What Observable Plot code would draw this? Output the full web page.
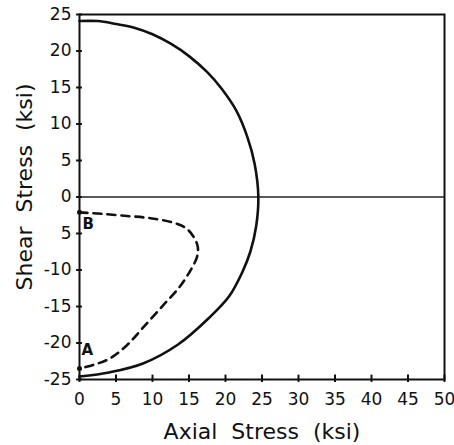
<!DOCTYPE html>
<html>
<head>
<meta charset="utf-8">
<script src="https://cdn.jsdelivr.net/npm/d3@7"></script>
<script src="https://cdn.jsdelivr.net/npm/@observablehq/plot@0.6"></script>
<style>
  body { margin: 0; background: #fff; }
  #chart svg { display: block; }
</style>
</head>
<body>
<div id="chart"></div>
<script>
// Solid curve (outer envelope)
const solidX = [0, 2.5, 5, 7.5, 10, 12.5, 15, 17.5, 19.5, 21.5, 23, 24, 24.5, 24.2, 23.4, 22.3, 20.5, 17.8, 13.5, 8.7, 4.2, 0];
const solidY = [24.1, 24.1, 23.7, 23.2, 22.3, 21.0, 19.3, 17.1, 14.8, 11.8, 8.2, 4.5, 0, -4, -7.5, -10.3, -13.6, -16.5, -20.2, -22.8, -24.0, -24.6];
// Dashed path from B to A
const dashX = [0, 3, 6.5, 9.7, 12.8, 14.5, 15.6, 16.2, 16.1, 15.4, 13.8, 11.4, 8.7, 6.5, 4.2, 1.9, 0];
const dashY = [-2.1, -2.3, -2.6, -2.9, -3.5, -4.2, -5.4, -6.8, -8.2, -9.7, -12.2, -14.9, -17.9, -20.3, -22.1, -23, -23.5];
// Labelled points
const ptLabels = ["A", "B"];
const ptX = [0, 0];
const ptY = [-23.5, -2.1];
// Ticks
const xTicks = [0, 5, 10, 15, 20, 25, 30, 35, 40, 45, 50];
const yTicks = [25, 20, 15, 10, 5, 0, -5, -10, -15, -20, -25];
const yTickLabels = ["25", "20", "15", "10", "5", "0", "5", "-10", "-15", "-20", "-25"];

const solid = solidX.map((x, i) => ({x, y: solidY[i]}));
const dashed = dashX.map((x, i) => ({x, y: dashY[i]}));
const pts = ptLabels.map((l, i) => ({l, x: ptX[i], y: ptY[i]}));

const font = "'DejaVu Sans', sans-serif";

const chart = Plot.plot({
  width: 454,
  height: 445,
  marginLeft: 79,
  marginRight: 10,
  marginTop: 14,
  marginBottom: 66,
  style: {fontFamily: font, background: "#fff", color: "#111"},
  x: {domain: [0, 50]},
  y: {domain: [-25, 25]},
  marks: [
    Plot.frame({stroke: "#111", strokeWidth: 2}),
    Plot.ruleY([0], {stroke: "#222", strokeWidth: 1.5}),
    Plot.ruleX(xTicks, {x: d => d, y1: -25.4, y2: -24.4, stroke: "#111", strokeWidth: 2}),
    Plot.ruleY(yTicks, {y: d => d, x1: -0.4, x2: 0.4, stroke: "#111", strokeWidth: 2}),
    Plot.axisX({ticks: xTicks, tickSize: 0, tickPadding: 13, fontSize: 17, label: null, fill: "#111"}),
    Plot.axisY({ticks: yTicks, tickSize: 0, tickPadding: 8, fontSize: 17, label: null, fill: "#111",
      tickFormat: d => yTickLabels[yTicks.indexOf(d)]}),
    Plot.line(solid, {x: "x", y: "y", curve: "catmull-rom", stroke: "#111", strokeWidth: 2.6}),
    Plot.line(dashed, {x: "x", y: "y", curve: "catmull-rom", stroke: "#111", strokeWidth: 2.6, strokeDasharray: "8,6"}),
    Plot.dot(pts, {x: "x", y: "y", r: 2.5, fill: "#111"}),
    Plot.text(pts.filter(d => d.l === "A"), {x: "x", y: "y", text: "l", textAnchor: "start", dx: 2, dy: -18, fontSize: 15, fontWeight: "bold", fill: "#111"}),
    Plot.text(pts.filter(d => d.l === "B"), {x: "x", y: "y", text: "l", textAnchor: "start", dx: 3, dy: 12, fontSize: 15, fontWeight: "bold", fill: "#111"}),
    Plot.text(["Axial  Stress  (ksi)"], {frameAnchor: "bottom", dy: 59, fontSize: 22, fill: "#111"}),
    Plot.text(["Shear  Stress  (ksi)"], {frameAnchor: "left", textAnchor: "middle", dx: -55, dy: -10, rotate: -90, fontSize: 22, fill: "#111"})
  ]
});
document.getElementById("chart").append(chart);
</script>
</body>
</html>
